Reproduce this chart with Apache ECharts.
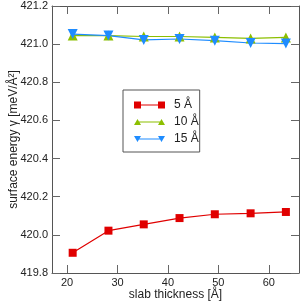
<!DOCTYPE html>
<html><head><meta charset="utf-8">
<script src="https://cdn.jsdelivr.net/npm/echarts@6/dist/echarts.min.js"></script>
<style>html,body{margin:0;padding:0;background:#fff}#c{width:306px;height:304px}</style>
</head><body><div id="c"></div>
<script>
const thickness = [21.1, 28.2, 35.2, 42.3, 49.3, 56.4, 63.4];
const gamma5 = [419.906, 420.022, 420.055, 420.088, 420.108, 420.113, 420.12];
const gamma10 = [421.045, 421.045, 421.04, 421.04, 421.035, 421.03, 421.035];
const gamma15 = [421.053, 421.045, 421.022, 421.027, 421.018, 421.006, 421.003];
const xTicks = [20, 30, 40, 50, 60];
const seriesNames = ['5 Å', '10 Å', '15 Å'];

const chart = echarts.init(document.getElementById('c'));
const font = 'Liberation Sans, Arial, sans-serif';
const axisLineColor = '#555';
const tickColor = '#666';
function pts(ys){ return thickness.map((x,i)=>[x, ys[i]]); }
const xBase = {
  type:'value', min:17, max:66,
  axisLine:{show:true, onZero:false, lineStyle:{color:axisLineColor, width:1}},
  axisTick:{show:true, inside:true, length:8, customValues:xTicks, lineStyle:{color:tickColor}},
  splitLine:{show:false}
};
const yBase = {
  type:'value', min:419.8, max:421.2, interval:0.2,
  axisLine:{show:true, onZero:false, lineStyle:{color:axisLineColor, width:1}},
  axisTick:{show:true, inside:true, length:8, lineStyle:{color:tickColor}},
  splitLine:{show:false}
};
const iconSquares = 'path://M0 1 L7 1 L7 8 L0 8 Z M7 4 L24 4 L24 5 L7 5 Z M24 1 L31 1 L31 8 L24 8 Z';
const iconUp = 'path://M0 7.5 L3.5 1.5 L7 7.5 Z M3.5 4 L27.5 4 L27.5 5 L3.5 5 Z M24 7.5 L27.5 1.5 L31 7.5 Z';
const iconDown = 'path://M0 1.5 L7 1.5 L3.5 7.5 Z M3.5 4 L27.5 4 L27.5 5 L3.5 5 Z M24 1.5 L31 1.5 L27.5 7.5 Z';
chart.setOption({
  animation:false,
  grid:{left:52, right:7, top:6, bottom:31, containLabel:false, outerBoundsMode:'none'},
  xAxis:[
    Object.assign({}, xBase, {position:'bottom',
      name:'slab thickness [Å]', nameLocation:'middle', nameGap:16, nameMoveOverlap:false,
      nameTextStyle:{fontFamily:font, fontSize:12, color:'#222'},
      axisLabel:{show:true, customValues:xTicks, fontFamily:font, fontSize:11, color:'#222', margin:4}}),
    Object.assign({}, xBase, {position:'top', axisLabel:{show:false}})
  ],
  yAxis:[
    Object.assign({}, yBase, {position:'left',
      name:'surface energy γ [meV/Å²]', nameLocation:'middle', nameGap:32, nameMoveOverlap:false,
      nameTextStyle:{fontFamily:font, fontSize:12, color:'#222'},
      axisLabel:{show:true, fontFamily:font, fontSize:11, color:'#222', margin:4,
        formatter:v=>v.toFixed(1)}}),
    Object.assign({}, yBase, {position:'right', axisLabel:{show:false}})
  ],
  legend:{
    show:true, orient:'vertical', left:123, top:90,
    data:[{name:seriesNames[0], icon:iconSquares},{name:seriesNames[1], icon:iconUp},{name:seriesNames[2], icon:iconDown}],
    backgroundColor:'#fff', borderColor:'#555', borderWidth:1, borderRadius:0,
    padding:[9,1,7,11], itemWidth:31, itemHeight:9, itemGap:5,
    itemStyle:{borderWidth:0},
    textStyle:{fontFamily:font, fontSize:12, color:'#222', padding:[0,0,0,4]}
  },
  series:[
    {name:seriesNames[0], type:'line', data:pts(gamma5), symbol:'rect', symbolSize:8,
      color:'#e00000', lineStyle:{width:1.2, color:'#e00000'}, itemStyle:{color:'#e00000'}},
    {name:seriesNames[1], type:'line', data:pts(gamma10), symbol:'triangle', symbolSize:10,
      color:'#8cbf00', lineStyle:{width:1.2, color:'#8cbf00'}, itemStyle:{color:'#8cbf00'}},
    {name:seriesNames[2], type:'line', data:pts(gamma15), symbol:'triangle', symbolRotate:180, symbolSize:10,
      color:'#1e8cff', lineStyle:{width:1.2, color:'#1e8cff'}, itemStyle:{color:'#1e8cff'}}
  ]
});
</script></body></html>
